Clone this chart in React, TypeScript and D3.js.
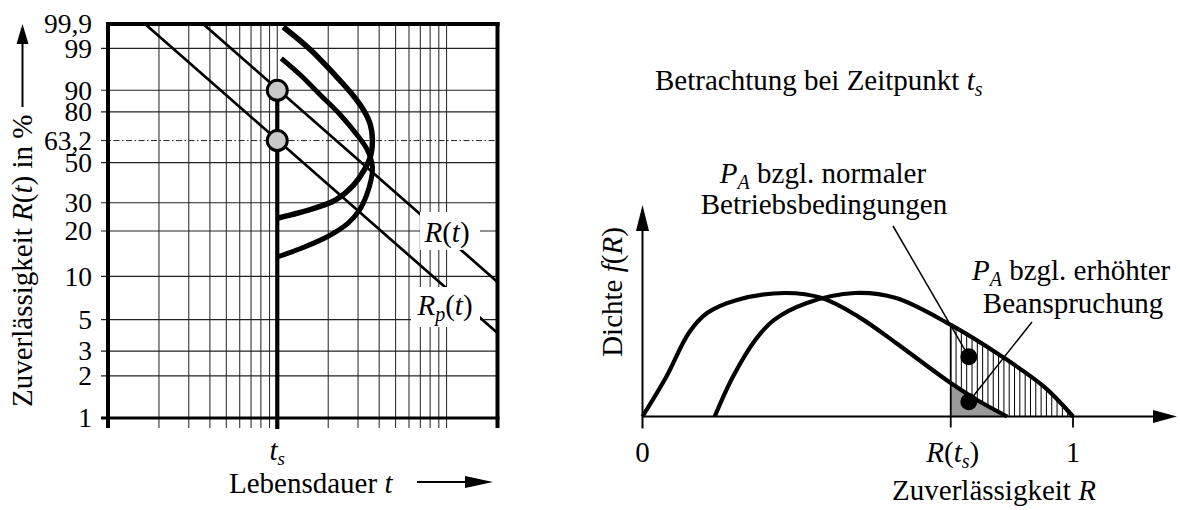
import React from "react";
import * as d3 from "d3";

const FONT = "'Liberation Serif', 'Times New Roman', Times, serif";

// ---------- left panel: Weibull probability paper ----------
const timeExtent: [number, number] = [1, 200];
const timeGrid = [2, 3, 4, 5, 6, 7, 8, 9, 10, 20, 30, 40, 50, 60, 70, 80, 90, 100];
const reliabilityExtent: [number, number] = [1, 99.9];
const reliabilityGrid = [99, 90, 80, 50, 30, 20, 10, 5, 3, 2];
const reliabilityTicks = [99.9, 99, 90, 80, 63.2, 50, 30, 20, 10, 5, 3, 2, 1];
const reliabilityTickLabels = ["99,9", "99", "90", "80", "63,2", "50", "30", "20", "10", "5", "3", "2", "1"];
const characteristicLevel = 63.2;
const tS = 10;

// straight Weibull lines (t, R in %)
const lineR = [
  { t: 3.65, r: 99.9 },
  { t: 200, r: 9.15 },
];
const lineRp = [
  { t: 1.655, r: 99.9 },
  { t: 200, r: 4.03 },
];

// scatter of R(t) at t_s, drawn sideways
const spreadUpper = [
  { t: 10.85, r: 99.86 }, { t: 15.7, r: 98.9 }, { t: 21.4, r: 95.3 }, { t: 27.0, r: 89.3 },
  { t: 32.3, r: 81.0 }, { t: 35.5, r: 72.6 }, { t: 36.5, r: 63.5 }, { t: 35.7, r: 54.4 },
  { t: 32.6, r: 45.8 }, { t: 28.2, r: 38.0 }, { t: 22.0, r: 31.1 }, { t: 15.7, r: 27.3 },
  { t: 12.2, r: 25.4 }, { t: 10, r: 24.1 },
];
const spreadLower = [
  { t: 10.56, r: 98.0 }, { t: 13.7, r: 94.85 }, { t: 17.97, r: 88.1 }, { t: 23.6, r: 78.3 },
  { t: 29.7, r: 66.5 }, { t: 34.1, r: 57.4 }, { t: 36.5, r: 47.5 }, { t: 35.8, r: 40.5 },
  { t: 33.6, r: 33.0 }, { t: 30.5, r: 27.0 }, { t: 26.0, r: 22.3 }, { t: 20.0, r: 18.5 },
  { t: 14.6, r: 15.8 }, { t: 10, r: 13.5 },
];
const markers = [
  { t: 10, r: 90 },
  { t: 10, r: 63.2 },
];

// ---------- right panel: density of R at t_s ----------
const rTs = 0.716;
const densityStressed: [number, number][] = [
  [0, 0], [0.056, 0.19], [0.1075, 0.395], [0.15, 0.489], [0.2195, 0.551], [0.331, 0.584],
  [0.417, 0.56], [0.503, 0.47], [0.589, 0.3475], [0.658, 0.2435], [0.716, 0.158],
  [0.777, 0.078], [0.847, 0],
];
const densityNormal: [number, number][] = [
  [0.1677, 0], [0.21, 0.188], [0.262, 0.362], [0.305, 0.456], [0.382, 0.537], [0.4936, 0.584],
  [0.589, 0.56], [0.716, 0.433], [0.8295, 0.291], [0.9326, 0.141], [1, 0],
];
const probabilityMarkers = [
  { r: 0.758, f: 0.283 },
  { r: 0.758, f: 0.07 },
];
const hatchCount = 23;

const weib = (r: number) => Math.log(-Math.log(1 - r / 100));

export default function App() {
  // left scales
  const xT = d3.scaleLog().domain(timeExtent).range([108, 497.5]);
  const uScale = d3
    .scaleLinear()
    .domain([weib(reliabilityExtent[0]), weib(reliabilityExtent[1])])
    .range([418, 24]);
  const yR = (r: number) => uScale(weib(r));
  const xLeft = xT(timeExtent[0]);
  const xRight = xT(timeExtent[1]);
  const yTop = yR(reliabilityExtent[1]);
  const yBottom = yR(reliabilityExtent[0]);

  const straight = d3
    .line<{ t: number; r: number }>()
    .x((d) => xT(d.t))
    .y((d) => yR(d.r));
  const smooth = d3
    .line<{ t: number; r: number }>()
    .x((d) => xT(d.t))
    .y((d) => yR(d.r))
    .curve(d3.curveCatmullRom.alpha(0.5));

  // right scales
  const xR = d3.scaleLinear().domain([0, 1]).range([642.5, 1073]);
  const yF = d3.scaleLinear().domain([0, 1]).range([416.5, 205]);
  const densLine = d3
    .line<[number, number]>()
    .x((d) => xR(d[0]))
    .y((d) => yF(d[1]))
    .curve(d3.curveCatmullRom.alpha(0.5));
  const densArea = d3
    .area<[number, number]>()
    .x((d) => xR(d[0]))
    .y0(yF(0))
    .y1((d) => yF(d[1]))
    .curve(d3.curveCatmullRom.alpha(0.5));
  const hatchXs = d3.range(1, hatchCount).map((i) => rTs + ((1 - rTs) * i) / hatchCount);
  const axisY = yF(0);

  const sub = (s: string, size = 20, dy = 6) => (
    <tspan fontStyle="italic" fontSize={size} dy={dy}>
      {s}
    </tspan>
  );

  return (
    <svg
      width={1180}
      height={510}
      style={{ position: "absolute", left: 0, top: 0, background: "#fff" }}
      fontFamily={FONT}
    >
      <defs>
        <clipPath id="underNormal">
          <path d={densArea(densityNormal) || ""} />
        </clipPath>
        <clipPath id="beyondTs">
          <rect x={xR(rTs)} y={0} width={400} height={axisY} />
        </clipPath>
      </defs>

      {/* ================= left panel ================= */}
      {/* vertical grid */}
      {timeGrid.map((t) => (
        <line key={"vt" + t} x1={xT(t)} x2={xT(t)} y1={yTop} y2={428} stroke="#333" strokeWidth={1.1} />
      ))}
      {/* horizontal grid */}
      {reliabilityGrid.map((r) => (
        <line key={"hr" + r} x1={101} x2={xRight} y1={yR(r)} y2={yR(r)} stroke="#222" strokeWidth={1.2} />
      ))}
      <line
        x1={101}
        x2={xRight}
        y1={yR(characteristicLevel)}
        y2={yR(characteristicLevel)}
        stroke="#222"
        strokeWidth={1}
        strokeDasharray="6 2.5 1.5 2.5"
      />

      {/* Weibull lines */}
      <path d={straight(lineR) || ""} fill="none" stroke="#000" strokeWidth={2.7} />
      <path d={straight(lineRp) || ""} fill="none" stroke="#000" strokeWidth={2.7} />

      {/* line labels with white backing */}
      <rect x={420} y={212} width={60} height={38} fill="#fff" />
      <text x={447} y={242} fontSize={29} textAnchor="middle">
        <tspan fontStyle="italic">R</tspan>(<tspan fontStyle="italic">t</tspan>)
      </text>
      <rect x={411} y={287} width={69} height={40} fill="#fff" />
      <text x={445} y={315} fontSize={29} textAnchor="middle">
        <tspan fontStyle="italic">R</tspan>
        {sub("p")}
        <tspan dy={-6}>(</tspan>
        <tspan fontStyle="italic">t</tspan>)
      </text>

      {/* spread curves */}
      <path d={smooth(spreadUpper) || ""} fill="none" stroke="#000" strokeWidth={5.5} />
      <path d={smooth(spreadLower) || ""} fill="none" stroke="#000" strokeWidth={5} />

      {/* frame */}
      <line x1={xLeft} x2={xLeft} y1={yTop - 2} y2={428} stroke="#000" strokeWidth={4} />
      <line x1={xRight} x2={xRight} y1={yTop - 2} y2={428} stroke="#000" strokeWidth={4} />
      <line x1={xLeft - 2} x2={xRight + 2} y1={yTop} y2={yTop} stroke="#000" strokeWidth={4} />
      <line x1={101} x2={xRight + 2} y1={yBottom} y2={yBottom} stroke="#000" strokeWidth={3} />

      {/* t_s */}
      <line x1={xT(tS)} x2={xT(tS)} y1={yR(markers[0].r)} y2={429} stroke="#000" strokeWidth={4.2} />
      {markers.map((m, i) => (
        <circle key={"m" + i} cx={xT(m.t)} cy={yR(m.r)} r={10} fill="#c8c8c8" stroke="#000" strokeWidth={3} />
      ))}

      {/* tick labels */}
      {reliabilityTicks.map((r, i) => (
        <text key={"tl" + r} x={92} y={yR(r)} dy="0.34em" fontSize={27.5} textAnchor="end">
          {reliabilityTickLabels[i]}
        </text>
      ))}
      <text x={xT(tS)} y={460} fontSize={29} textAnchor="middle">
        <tspan fontStyle="italic">t</tspan>
        {sub("s", 19, 5)}
      </text>

      {/* axis titles */}
      <text transform="translate(32,407) rotate(-90)" fontSize={29}>
        Zuverlässigkeit <tspan fontStyle="italic">R</tspan>(<tspan fontStyle="italic">t</tspan>) in %
      </text>
      <line x1={22.5} x2={22.5} y1={107} y2={40} stroke="#000" strokeWidth={2} />
      <path d="M22.5,24 L16.5,44 L28.5,44 Z" fill="#000" />

      <text x={229} y={493} fontSize={29}>
        Lebensdauer <tspan fontStyle="italic">t</tspan>
      </text>
      <line x1={417} x2={470} y1={482} y2={482} stroke="#000" strokeWidth={2} />
      <path d="M493,482 L465,476 L465,488 Z" fill="#000" />

      {/* ================= right panel ================= */}
      <text x={655} y={90} fontSize={29}>
        Betrachtung bei Zeitpunkt <tspan fontStyle="italic">t</tspan>
        {sub("s")}
      </text>

      {/* hatched area under normal-condition density beyond R(t_s) */}
      <g clipPath="url(#underNormal)">
        {hatchXs.map((r, i) => (
          <line key={"h" + i} x1={xR(r)} x2={xR(r)} y1={axisY} y2={yF(0.8)} stroke="#000" strokeWidth={1} />
        ))}
      </g>
      {/* grey area under increased-stress density beyond R(t_s) */}
      <g clipPath="url(#beyondTs)">
        <path d={densArea(densityStressed) || ""} fill="#9a9a9a" />
      </g>

      <path d={densLine(densityStressed) || ""} fill="none" stroke="#000" strokeWidth={4.2} />
      <path d={densLine(densityNormal) || ""} fill="none" stroke="#000" strokeWidth={4.2} />

      {/* R(t_s) marker line */}
      <g clipPath="url(#underNormal)">
        <line x1={xR(rTs)} x2={xR(rTs)} y1={axisY} y2={yF(0.8)} stroke="#000" strokeWidth={1.8} />
      </g>

      {/* axes */}
      <line x1={xR(0)} x2={1160} y1={axisY} y2={axisY} stroke="#000" strokeWidth={2} />
      <path d={`M1177,${axisY} L1153,${axisY - 6.5} L1153,${axisY + 6.5} Z`} fill="#000" />
      <line x1={xR(0)} x2={xR(0)} y1={axisY + 12} y2={225} stroke="#000" strokeWidth={2} />
      <path d={`M${xR(0)},205 L${xR(0) - 6.5},231 L${xR(0) + 6.5},231 Z`} fill="#000" />
      {[rTs, 1].map((v) => (
        <line key={"xt" + v} x1={xR(v)} x2={xR(v)} y1={axisY} y2={axisY + 11} stroke="#000" strokeWidth={1.8} />
      ))}

      <text x={xR(0)} y={462} fontSize={29} textAnchor="middle">0</text>
      <text x={xR(rTs) + 2} y={462} fontSize={29} textAnchor="middle">
        <tspan fontStyle="italic">R</tspan>(<tspan fontStyle="italic">t</tspan>
        {sub("s")}
        <tspan dy={-6}>)</tspan>
      </text>
      <text x={xR(1)} y={462} fontSize={29} textAnchor="middle">1</text>
      <text x={994} y={500} fontSize={29} textAnchor="middle">
        Zuverlässigkeit <tspan fontStyle="italic">R</tspan>
      </text>
      <text transform="translate(622,292) rotate(-90)" fontSize={29} textAnchor="middle">
        Dichte <tspan fontStyle="italic">f</tspan>(<tspan fontStyle="italic">R</tspan>)
      </text>

      {/* annotations */}
      <text x={823} y={183} fontSize={29} textAnchor="middle">
        <tspan fontStyle="italic">P</tspan>
        {sub("A")}
        <tspan dy={-6}> bzgl. normaler</tspan>
      </text>
      <text x={824} y={214} fontSize={29} textAnchor="middle">Betriebsbedingungen</text>
      <text x={972} y={280} fontSize={29}>
        <tspan fontStyle="italic">P</tspan>
        {sub("A")}
        <tspan dy={-6}> bzgl. erhöhter</tspan>
      </text>
      <text x={1073} y={313} fontSize={29} textAnchor="middle">Beanspruchung</text>

      <line
        x1={893}
        y1={226}
        x2={xR(probabilityMarkers[0].r)}
        y2={yF(probabilityMarkers[0].f)}
        stroke="#000"
        strokeWidth={1.5}
      />
      <line
        x1={1032}
        y1={322}
        x2={xR(probabilityMarkers[1].r)}
        y2={yF(probabilityMarkers[1].f)}
        stroke="#000"
        strokeWidth={1.5}
      />
      {probabilityMarkers.map((m, i) => (
        <circle key={"pm" + i} cx={xR(m.r)} cy={yF(m.f)} r={8.5} fill="#000" />
      ))}
    </svg>
  );
}
